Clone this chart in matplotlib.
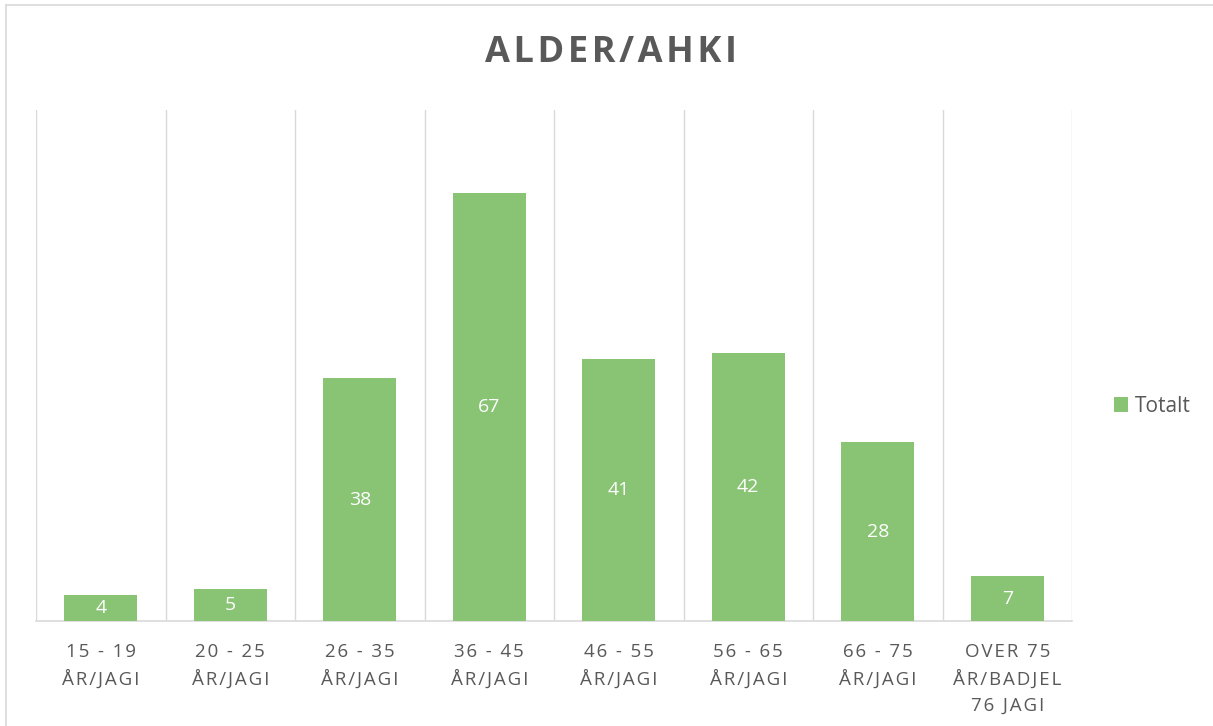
import matplotlib
matplotlib.use("Agg")
import matplotlib.pyplot as plt
from matplotlib.lines import Line2D
from matplotlib.patches import Patch

categories = ["15 - 19\nÅR/JAGI", "20 - 25\nÅR/JAGI", "26 - 35\nÅR/JAGI", "36 - 45\nÅR/JAGI",
              "46 - 55\nÅR/JAGI", "56 - 65\nÅR/JAGI", "66 - 75\nÅR/JAGI", "OVER 75\nÅR/BADJEL\n76 JAGI"]
values = [4, 5, 38, 67, 41, 42, 28, 7]
series_name = "Totalt"
title = "ALDER/AHKI"

GREEN = "#89C374"
GRID = "#D9D9D9"
TEXT = "#595959"
FONT = ["Open Sans", "DejaVu Sans"]

def spaced(s, sp="\u200a"):
    return "\n".join(sp.join(list(line)) for line in s.split("\n"))

fig = plt.figure(figsize=(12.13, 7.26), dpi=100)
ax = fig.add_axes([36/1213, 1 - 621/726, (1072-36)/1213, (621-110)/726])

x = list(range(len(values)))
bars = ax.bar(x, values, width=0.565, color=GREEN, zorder=3)
for xi, v in zip(x, values):
    ax.text(xi, v/2, str(v), ha="center", va="center", color="white",
            fontsize=14, family=FONT, zorder=4)

ax.set_xlim(-0.5, len(values) - 0.5)
ax.set_ylim(0, 80)
for b in [i - 0.5 for i in range(len(values) + 1)]:
    ax.axvline(b, color=GRID, lw=1, zorder=1)
for s in ["top", "left", "right"]:
    ax.spines[s].set_visible(False)
ax.spines["bottom"].set_color(GRID)
ax.spines["bottom"].set_linewidth(1.2)
ax.set_yticks([])
ax.set_xticks(x)
ax.set_xticklabels([spaced(c) for c in categories], color=TEXT, fontsize=13.5,
                   family=FONT, linespacing=1.55, va="top")
ax.tick_params(axis="x", length=0, pad=16)

fig.text(611/1213, 1 - 53/726, spaced(title), ha="center", va="center", color=TEXT,
         fontsize=26, fontweight="bold", family=FONT)

leg = fig.legend(handles=[Patch(facecolor=GREEN, label=series_name)],
                 loc="center left", bbox_to_anchor=(1095/1213, 1 - 406/726),
                 frameon=False, prop={"family": FONT, "size": 15},
                 handlelength=0.7, handleheight=0.7, handletextpad=0.3)
for t in leg.get_texts():
    t.set_color(TEXT)

fig.add_artist(Line2D([6/1213, 6/1213], [0, 1 - 5/726], color=GRID, lw=1.2, transform=fig.transFigure))
fig.add_artist(Line2D([6/1213, 1], [1 - 5/726, 1 - 5/726], color=GRID, lw=1.2, transform=fig.transFigure))

fig.savefig("out.png", dpi=100)
